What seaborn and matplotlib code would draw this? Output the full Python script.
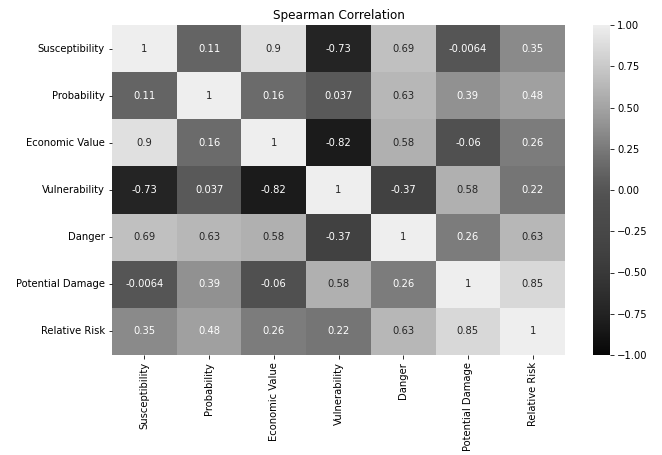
import numpy as np
import pandas as pd
import matplotlib
matplotlib.use("Agg")
import matplotlib.pyplot as plt
from matplotlib.colors import ListedColormap
import seaborn as sns

variables = ["Susceptibility", "Probability", "Economic Value", "Vulnerability",
             "Danger", "Potential Damage", "Relative Risk"]

susceptibility = [1, 0.11, 0.9, -0.73, 0.69, -0.0064, 0.35]
probability = [0.11, 1, 0.16, 0.037, 0.63, 0.39, 0.48]
economic_value = [0.9, 0.16, 1, -0.82, 0.58, -0.06, 0.26]
vulnerability = [-0.73, 0.037, -0.82, 1, -0.37, 0.58, 0.22]
danger = [0.69, 0.63, 0.58, -0.37, 1, 0.26, 0.63]
potential_damage = [-0.0064, 0.39, -0.06, 0.58, 0.26, 1, 0.85]
relative_risk = [0.35, 0.48, 0.26, 0.22, 0.63, 0.85, 1]

corr = pd.DataFrame(
    [susceptibility, probability, economic_value, vulnerability,
     danger, potential_damage, relative_risk],
    index=variables, columns=variables,
)

# grayscale version of the rocket palette (luma of each colour)
rocket = np.array(sns.color_palette("rocket", 256))
luma = rocket @ np.array([0.299, 0.587, 0.114])
gray_rocket = ListedColormap(np.column_stack([luma, luma, luma]))

fig = plt.figure(figsize=(662 / 72, 455 / 72), dpi=72)
ax = fig.add_axes([112 / 662, 1 - 355 / 455, (565 - 112) / 662, (355 - 25) / 455])
cax = fig.add_axes([593 / 662, 1 - 355 / 455, 17 / 662, (355 - 25) / 455])

sns.heatmap(corr, vmin=-1, vmax=1, cmap=gray_rocket, annot=True,
            ax=ax, cbar_ax=cax, annot_kws={"fontsize": 10})

for txt in ax.texts:
    v = float(txt.get_text().replace("\u2212", "-"))
    txt.set_color("0.15" if v >= 0.55 else "white")

ax.set_title("Spearman Correlation", fontsize=12)
ax.tick_params(labelsize=10)
plt.setp(ax.get_yticklabels(), rotation=0)
plt.setp(ax.get_xticklabels(), rotation=90)
cax.tick_params(labelsize=10)

fig.savefig("out.png", dpi=72)
